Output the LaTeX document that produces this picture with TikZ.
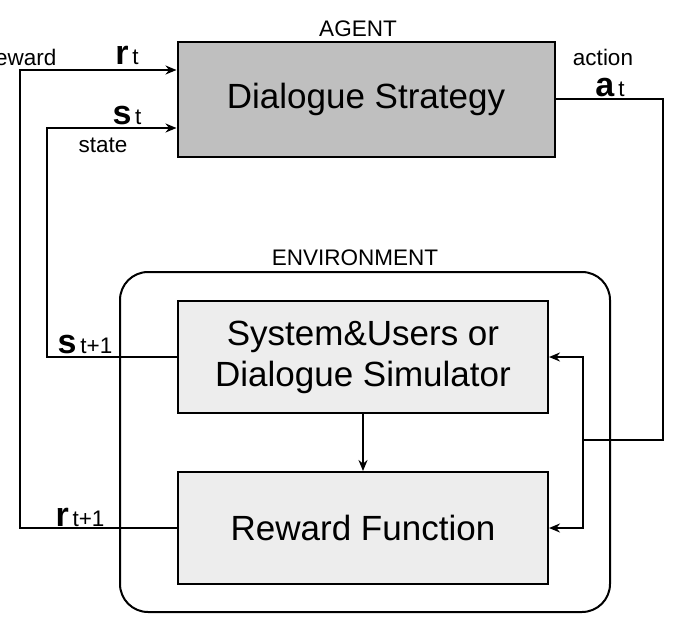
\documentclass[tikz,border=0pt]{standalone}
\usepackage{fontspec}
\setmainfont{Liberation Sans}
\usetikzlibrary{arrows.meta}
\begin{document}
\begin{tikzpicture}[x=1pt,y=-1pt,
  box/.style={draw,line width=2pt,minimum width=370pt,minimum height=112pt,font=\fontsize{35}{41}\selectfont,align=center},
  line/.style={line width=2pt},
  arr/.style={line width=2pt,-{Stealth[length=11pt,width=9pt]}},
  lab/.style={font=\fontsize{22.5}{25}\selectfont,inner sep=0pt},
  sub/.style={},
  big/.style={font=\bfseries\fontsize{34}{36}\selectfont,inner sep=0pt}]
\useasboundingbox (0,0) rectangle (683,635);
\node[draw,line width=2pt,rounded corners=28pt,minimum width=490pt,minimum height=340pt] (env) at (365,442) {};
\node[box,fill=black!25,minimum width=377pt,minimum height=115pt] (agent) at (366,99) {Dialogue Strategy};
\node[box,fill=black!7] (sys) at (363,357) {System\&Users or\\Dialogue Simulator};
\node[box,fill=black!7] (rew) at (363,528) {Reward Function};
\node[lab] (agl) at (358,29) {AGENT};
\node[lab] (envl) at (355,258) {ENVIRONMENT};
\draw[arr] (sys) -- (rew);
\coordinate (a1) at (663,99);
\coordinate (a2) at (663,440);
\coordinate (a3) at (583,440);
\coordinate (a4) at (583,357);
\coordinate (a5) at (583,528);
\draw[line] (agent.east) -- (a1) -- (a2) -- (a3);
\draw[arr] (a3) -- (a4) -- (sys.east);
\draw[arr] (a3) -- (a5) -- (rew.east);
\coordinate (s1) at (47,357);
\coordinate (s2) at (47,128);
\draw[arr] (sys.west) -- (s1) -- (s2) -- (agent.west |- s2);
\coordinate (r1) at (20,528);
\coordinate (r2) at (20,70);
\draw[arr] (rew.west) -- (r1) -- (r2) -- (agent.west |- r2);
\node[lab] (rwl) at (22,57) {reward};
\node[big] (rt) at (127,55) {r\textmd{\fontsize{22.5}{25}\selectfont\,t}};
\node[big] (st) at (127,116) {s\textmd{\fontsize{22.5}{25}\selectfont\,t}};
\node[lab] (stl) at (103,145) {state};
\node[lab] (acl) at (603,57) {action};
\node[big] (at) at (610,88) {a\textmd{\fontsize{22.5}{25}\selectfont\,t}};
\node[big] (st1) at (85,345) {s\textmd{\fontsize{22.5}{25}\selectfont\,t+1}};
\node[big] (rt1) at (80,517) {r\textmd{\fontsize{22.5}{25}\selectfont\,t+1}};
\end{tikzpicture}
\end{document}
